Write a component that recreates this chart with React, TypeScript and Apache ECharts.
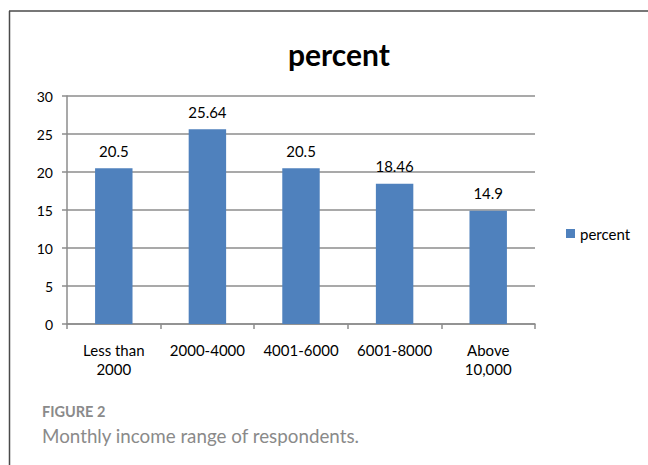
import React, { useEffect, useRef } from "react";
import * as echarts from "echarts";

const categories = ["Less than\n2000", "2000-4000", "4001-6000", "6001-8000", "Above\n10,000"];
const percentValues = [20.5, 25.64, 20.5, 18.46, 14.9];
const seriesName = "percent";
const figureLabel = "FIGURE 2";
const figureCaption = "Monthly income range of respondents.";

const FONT = "Lato, 'Open Sans', sans-serif";

export default function App() {
  const ref = useRef<HTMLDivElement>(null);

  useEffect(() => {
    document.body.style.margin = "0";
    if (!ref.current) return;
    const chart = echarts.init(ref.current, null, { renderer: "svg" });
    chart.setOption({
      animation: false,
      backgroundColor: "#ffffff",
      title: {
        text: seriesName,
        left: 334,
        top: 34,
        textAlign: "center",
        textStyle: { fontFamily: FONT, fontSize: 30, fontWeight: "bold", color: "#000" },
      },
      legend: {
        data: [seriesName],
        left: 561,
        top: 221,
        itemWidth: 9,
        itemHeight: 9,
        itemGap: 6,
        icon: "rect",
        textStyle: { fontFamily: FONT, fontSize: 15, color: "#000" },
      },
      grid: { left: 67, right: 113, top: 96, bottom: 141 },
      xAxis: {
        type: "category",
        data: categories,
        axisLine: { lineStyle: { color: "#8c8c8c", width: 1.5 } },
        axisTick: { show: true, length: 5, lineStyle: { color: "#8c8c8c", width: 1.5 } },
        axisLabel: {
          fontFamily: FONT,
          fontSize: 15,
          color: "#000",
          margin: 16,
          lineHeight: 19,
          interval: 0,
        },
      },
      yAxis: {
        type: "value",
        min: 0,
        max: 30,
        interval: 5,
        axisLine: { show: true, lineStyle: { color: "#8c8c8c", width: 1.5 } },
        axisTick: { show: true, length: 5, lineStyle: { color: "#8c8c8c", width: 1.5 } },
        splitLine: { lineStyle: { color: "#8c8c8c", width: 1.5 } },
        axisLabel: { fontFamily: FONT, fontSize: 14, color: "#000", margin: 14 },
      },
      series: [
        {
          name: seriesName,
          type: "bar",
          data: percentValues,
          barWidth: "40%",
          itemStyle: { color: "#4F81BD" },
          label: {
            show: true,
            position: "top",
            distance: 10,
            fontFamily: FONT,
            fontSize: 15,
            color: "#000",
          },
        },
      ],
      graphic: [
        {
          type: "line",
          shape: { x1: 9, y1: 11, x2: 648, y2: 11 },
          style: { stroke: "#4a4a4a", lineWidth: 1.5 },
        },
        {
          type: "line",
          shape: { x1: 9.5, y1: 11, x2: 9.5, y2: 465 },
          style: { stroke: "#4a4a4a", lineWidth: 1.5 },
        },
        {
          type: "text",
          left: 42,
          top: 404,
          style: { text: figureLabel, fontFamily: FONT, fontSize: 14.5, fontWeight: "bold", fill: "#8a8a8a" },
        },
        {
          type: "text",
          left: 42,
          top: 426,
          style: { text: figureCaption, fontFamily: FONT, fontSize: 18.8, fill: "#8a8a8a" },
        },
      ],
    });
    return () => chart.dispose();
  }, []);

  return <div ref={ref} style={{ width: 648, height: 465 }} />;
}
